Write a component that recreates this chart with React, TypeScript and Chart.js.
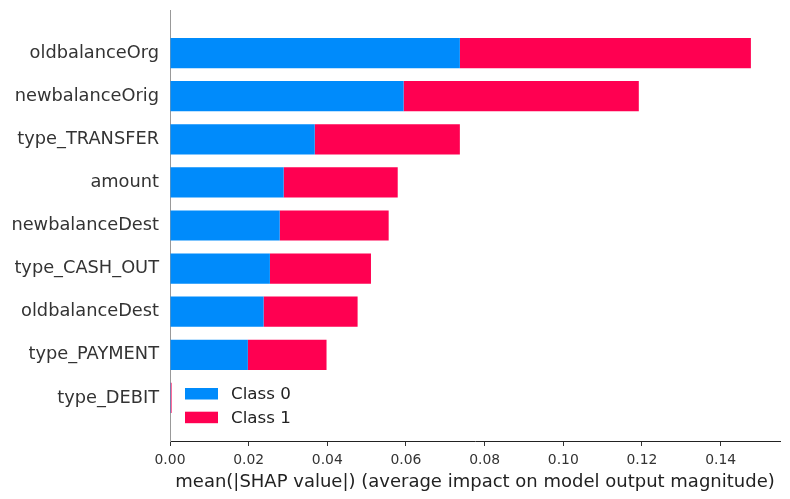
import React, { useEffect, useRef } from "react";
import { Chart, registerables } from "chart.js";

Chart.register(...registerables);

const features = [
  "oldbalanceOrg",
  "newbalanceOrig",
  "type_TRANSFER",
  "amount",
  "newbalanceDest",
  "type_CASH_OUT",
  "oldbalanceDest",
  "type_PAYMENT",
  "type_DEBIT",
];
const class0 = [0.0737, 0.0594, 0.0368, 0.0289, 0.0279, 0.0254, 0.0238, 0.0198, 0.0002];
const class1 = [0.074, 0.0598, 0.0369, 0.029, 0.0277, 0.0257, 0.0239, 0.02, 0.0002];
const seriesNames = ["Class 0", "Class 1"];
const xTickStep = 0.02;
const xMax = 0.1551;
const xTitle = "mean(|SHAP value|) (average impact on model output magnitude)";

const BLUE = "#008bfb";
const RED = "#ff0051";
const FONT = "'DejaVu Sans', sans-serif";

const pad = (arr: number[]) => [null, ...arr, null];

const legendPlugin = {
  id: "insideLegend",
  afterDraw(chart: any) {
    const { ctx, chartArea } = chart;
    const items = [
      { label: seriesNames[0], color: BLUE },
      { label: seriesNames[1], color: RED },
    ];
    ctx.save();
    ctx.font = `16.7px ${FONT}`;
    ctx.textBaseline = "middle";
    ctx.textAlign = "left";
    items.forEach((it, i) => {
      const cy = chartArea.bottom - 47.5 + i * 23.7;
      const x0 = chartArea.left + 15;
      ctx.fillStyle = it.color;
      ctx.fillRect(x0, cy - 5.5, 33, 11.5);
      ctx.fillStyle = "#222";
      ctx.fillText(it.label, x0 + 46, cy + 1);
    });
    ctx.restore();
  },
};

export default function App() {
  const ref = useRef<HTMLCanvasElement | null>(null);
  useEffect(() => {
    if (!ref.current) return;
    const chart = new Chart(ref.current, {
      type: "bar",
      data: {
        labels: ["", ...features, ""],
        datasets: [
          {
            label: seriesNames[0],
            data: pad(class0) as any,
            backgroundColor: BLUE,
            borderWidth: 0,
            barPercentage: 0.7,
            categoryPercentage: 1,
          },
          {
            label: seriesNames[1],
            data: pad(class1) as any,
            backgroundColor: RED,
            borderWidth: 0,
            barPercentage: 0.7,
            categoryPercentage: 1,
          },
        ],
      },
      plugins: [legendPlugin],
      options: {
        indexAxis: "y",
        animation: false,
        responsive: false,
        devicePixelRatio: 1,
        layout: { padding: { top: 10, right: 10, left: 0, bottom: 6 } },
        plugins: {
          legend: { display: false },
          tooltip: { enabled: false },
        },
        scales: {
          x: {
            type: "linear",
            stacked: true,
            min: 0,
            max: xMax,
            afterFit: (s: any) => {
              s.height = 52;
              s.paddingLeft = 0;
              s.paddingRight = 0;
            },
            ticks: {
              stepSize: xTickStep,
              includeBounds: false,
              color: "#333",
              font: { family: FONT, size: 13.9 },
              padding: 6,
              callback: (v: any) => Number(v).toFixed(2),
            },
            grid: {
              display: true,
              drawOnChartArea: false,
              drawTicks: true,
              tickLength: 5,
              color: "#333",
            },
            border: { display: true, color: "#222", width: 1 },
            title: {
              display: true,
              text: xTitle,
              color: "#222",
              font: { family: FONT, size: 18 },
              padding: { top: 1, bottom: 0 },
            },
          },
          y: {
            type: "category",
            stacked: true,
            offset: false,
            afterFit: (s: any) => {
              s.width = 170;
              s.paddingTop = 0;
              s.paddingBottom = 0;
            },
            ticks: {
              color: "#333",
              font: { family: FONT, size: 17.8 },
              padding: 11,
              autoSkip: false,
            },
            grid: { display: false, drawTicks: false, tickLength: 0 },
            border: { display: true, color: "#999", width: 1 },
          },
        },
      } as any,
    });
    return () => chart.destroy();
  }, []);
  return (
    <div style={{ position: "absolute", left: 0, top: 0, width: 790, height: 499, background: "#fff" }}>
      <canvas ref={ref} width={790} height={499} style={{ width: 790, height: 499, display: "block" }} />
    </div>
  );
}
